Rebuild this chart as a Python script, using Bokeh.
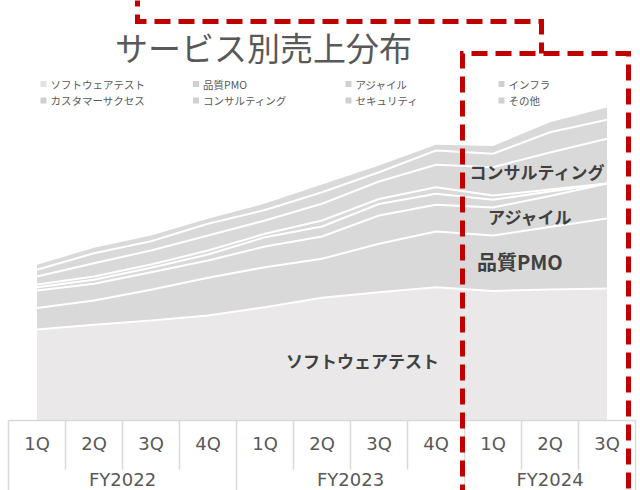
from bokeh.plotting import figure
from bokeh.models import Range1d, ColumnDataSource
from bokeh.core.properties import value
from bokeh.embed import file_html
from bokeh.resources import INLINE

# ---------------- data ----------------
title_text = "サービス別売上分布"
quarters = ["1Q", "2Q", "3Q", "4Q", "1Q", "2Q", "3Q", "4Q", "1Q", "2Q", "3Q"]
fiscal_years = ["FY2022"] * 4 + ["FY2023"] * 4 + ["FY2024"] * 3

series_names = ["ソフトウェアテスト", "品質PMO", "アジャイル", "インフラ",
                "カスタマーサクセス", "コンサルティング", "セキュリティ", "その他"]
series_keys = ["software_test", "quality_pmo", "agile", "infra",
               "customer_success", "consulting", "security", "others"]

software_test = [91, 95.7, 100, 105, 113.3, 122.7, 128.3, 133.3, 129.5, 131, 132]
quality_pmo = [21.5, 24.3, 30.7, 37.7, 40, 39, 48.4, 55.7, 55.5, 62.5, 70]
agile = [17.5, 16.7, 17.6, 17.3, 20.7, 22.3, 28.3, 26.7, 28, 31, 35]
infra = [3.3, 4, 4.4, 6, 9.3, 10, 11.5, 11, 7.7, 4.5, 0]
customer_success = [2.7, 3.3, 3.3, 4, 3.4, 6, 5, 6.6, 4.3, 2, 0]
consulting = [8, 13.3, 14, 15, 13.3, 16.7, 17.5, 22.4, 28.3, 37, 44.7]
security = [6.7, 10, 9.3, 11.7, 10.5, 11.6, 9.3, 14.3, 13.4, 20.3, 19]
others = [5, 5.4, 5.7, 5, 6.5, 7.7, 6.7, 5.7, 7.8, 10, 12.3]

series_values = [software_test, quality_pmo, agile, infra,
                 customer_success, consulting, security, others]

# in-chart labels: (text, category position, height within stack, size)
area_labels = [("ソフトウェアテスト", 6.21, 60, "17px"),
               ("品質PMO", 8.97, 159, "20px"),
               ("アジャイル", 9.16, 204.5, "17px"),
               ("コンサルティング", 9.28, 249, "17px")]

# ---------------- styles / layout ----------------
series_colors = ["#EAE8E9"] + ["#D9D9D9"] * 7
text_grey = "#595959"
label_grey = "#404040"
grid_grey = "#D9D9D9"
red = "#C00000"
JP = value("Noto Sans CJK JP")

W, H = 640, 490
CELL = 57.0           # px per category
X0_PX = 8             # pixel where the category table starts
BASE_PY = 420         # pixel row of the value zero line


def px_x(px):
    return (px - X0_PX) / CELL


def px_y(py):
    return BASE_PY - py


n = len(quarters)
xs = [i + 0.5 for i in range(n)]
Y_BOT = px_y(H)

p = figure(width=W, height=H, output_backend="svg", toolbar_location=None,
           x_range=Range1d(px_x(0), px_x(W)), y_range=Range1d(px_y(H), px_y(0)),
           x_axis_location=None, y_axis_location=None, min_border=0)
p.grid.visible = False
p.outline_line_color = None
p.background_fill_color = "white"
p.border_fill_color = "white"

data = {"x": xs}
for k, v in zip(series_keys, series_values):
    data[k] = v
source = ColumnDataSource(data)

p.varea_stack(stackers=series_keys, x="x", color=series_colors, source=source)
p.vline_stack(stackers=series_keys[:-1], x="x", line_color="white",
              line_width=2, source=source)

# ---------------- category table (axis) ----------------
group_bounds = [0] + [i for i in range(1, n) if fiscal_years[i] != fiscal_years[i - 1]] + [n]
inner_bounds = [i for i in range(1, n) if i not in group_bounds]
p.segment(x0=[0], y0=[0], x1=[n], y1=[0], line_color=grid_grey, line_width=1.5)
p.segment(x0=inner_bounds, y0=[0] * len(inner_bounds), x1=inner_bounds,
          y1=[-49] * len(inner_bounds), line_color=grid_grey, line_width=1.5)
p.segment(x0=group_bounds, y0=[0] * len(group_bounds), x1=group_bounds,
          y1=[Y_BOT - 10] * len(group_bounds), line_color=grid_grey, line_width=1.5)

p.text(x=xs, y=[-22.7] * n, text=quarters, text_align="center",
       text_baseline="middle", text_font=value("DejaVu Sans"),
       text_font_size="18px", text_color=text_grey)

fy_names, fy_centers = [], []
for a, b in zip(group_bounds[:-1], group_bounds[1:]):
    fy_names.append(fiscal_years[a])
    fy_centers.append((a + b) / 2)
p.text(x=fy_centers, y=[-58.5] * len(fy_names), text=fy_names, text_align="center",
       text_baseline="middle", text_font=value("DejaVu Sans"),
       text_font_size="18px", text_color=text_grey)

# ---------------- in-chart labels ----------------
for txt, lx, ly, fs in area_labels:
    p.text(x=[lx], y=[ly], text=[txt], text_align="center", text_baseline="middle",
           text_font=JP, text_font_style="bold", text_font_size=fs,
           text_color=label_grey)

# ---------------- title ----------------
p.text(x=[px_x(263)], y=[px_y(46)], text=[title_text], text_align="center",
       text_baseline="middle", text_font=JP, text_font_size="33px",
       text_color=text_grey)

# ---------------- legend ----------------
leg_col_px = [43, 195.5, 348, 501]
leg_row_py = [83.5, 100]
mx, my, tx, ty, tt, mc = [], [], [], [], [], []
for i, name in enumerate(series_names):
    r, c = divmod(i, 4)
    mx.append(px_x(leg_col_px[c]))
    my.append(px_y(leg_row_py[r]))
    tx.append(px_x(leg_col_px[c] + 7))
    ty.append(px_y(leg_row_py[r]))
    tt.append(name)
    mc.append("#E4E3E3" if i == 0 else "#D0D0D0")
p.scatter(x=mx, y=my, marker="square", size=6, fill_color=mc, line_color=None)
p.text(x=tx, y=ty, text=tt, text_align="left", text_baseline="middle",
       text_font=JP, text_font_size="10.5px", text_color=text_grey)

# ---------------- red dashed callout ----------------
conn_x = [px_x(137), px_x(137), px_x(541), px_x(541)]
conn_y = [px_y(-10), px_y(21), px_y(21), px_y(53)]
box_x = [px_x(462), px_x(462), px_x(628), px_x(628)]
box_y = [Y_BOT - 10, px_y(53), px_y(53), Y_BOT - 10]
p.line(conn_x, conn_y, line_color=red, line_width=5, line_dash="16 8",
       line_join="miter")
p.line(box_x, box_y, line_color=red, line_width=5, line_dash="16 8",
       line_join="miter")

open("out.html", "w").write(file_html(p, INLINE))
